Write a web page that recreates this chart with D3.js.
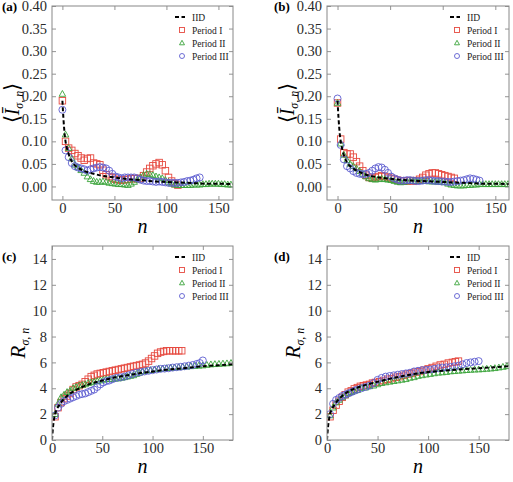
<!DOCTYPE html>
<html>
<head>
<meta charset="utf-8">
<script src="https://cdn.jsdelivr.net/npm/d3@7"></script>
<style>
body { margin: 0; background: #fff; }
svg { font-family: "Liberation Serif", "Times New Roman", "DejaVu Serif", serif; }
</style>
</head>
<body>
<svg id="chart" width="513" height="482"></svg>
<script>

// ---- data: [n, value] pairs ----

var iidA = [[0,0.19],[1,0.15],[2,0.12],[3,0.1],[4,0.088],[6,0.072],[8,0.06],[10,0.052],[13,0.045],[16,0.04],[20,0.035],[25,0.031],[30,0.028],[40,0.023],[50,0.02],[60,0.017],[70,0.015],[80,0.013],[90,0.011],[100,0.01],[110,0.009],[120,0.008],[130,0.007],[140,0.006],[150,0.006],[165,0.005]];
var p1A = [[0,.19],[3,.10],[6,.085],[9,.08],[12,.073],[15,.068],[18,.063],[21,.058],[24,.062],[27,.063],[30,.052],[33,.05],[36,.048],[39,.036],[42,.026],[45,.022],[48,.019],[51,.016],[54,.015],[57,.014],[60,.015],[63,.016],[66,.017],[69,.018],[72,.017],[75,.018],[78,.024],[81,.032],[84,.04],[87,.046],[90,.05],[93,.053],[96,.048],[99,.035],[102,.02],[105,.012],[108,.006],[111,.003]];
var p2A = [[0,.205],[3,.115],[6,.085],[9,.062],[12,.048],[15,.042],[18,.036],[21,.03],[24,.022],[27,.016],[30,.012],[33,.01],[36,.01],[39,.011],[42,.01],[45,.008],[48,.007],[51,.006],[54,.005],[57,.005],[60,.004],[63,.003],[66,.006],[69,.01],[72,.015],[75,.02],[78,.025],[81,.028],[84,.027],[87,.025],[90,.022],[93,.02],[96,.018],[99,.014],[102,.01],[105,.006],[108,.004],[111,.003],[114,.003],[117,.003],[120,.003],[123,.003],[126,.004],[129,.004],[132,.004],[135,.005],[138,.005],[141,.006],[144,.006],[147,.006],[150,.006],[153,.005],[156,.005],[159,.004],[162,.004]];
var p3A = [[0,.17],[3,.08],[6,.065],[9,.052],[12,.045],[15,.042],[18,.04],[21,.038],[24,.035],[27,.038],[30,.04],[33,.042],[36,.043],[39,.042],[42,.04],[45,.035],[48,.028],[51,.022],[54,.02],[57,.018],[60,.02],[63,.02],[66,.02],[69,.02],[72,.018],[75,.015],[78,.013],[81,.012],[84,.012],[87,.011],[90,.01],[93,.011],[96,.01],[99,.009],[102,.008],[105,.008],[108,.008],[111,.008],[114,.009],[117,.01],[120,.012],[123,.013],[126,.015],[129,.018],[132,.02]];

var iidB = [[0,0.19],[1,0.15],[2,0.12],[3,0.1],[4,0.088],[6,0.07],[8,0.058],[10,0.05],[13,0.043],[16,0.038],[20,0.033],[25,0.028],[30,0.024],[40,0.02],[50,0.017],[60,0.015],[70,0.013],[80,0.012],[90,0.011],[100,0.01],[110,0.009],[120,0.008],[130,0.007],[140,0.006],[150,0.006],[165,0.005]];
var p1B = [[0,.185],[3,.105],[6,.075],[9,.072],[12,.072],[15,.065],[18,.055],[21,.045],[24,.035],[27,.025],[30,.02],[33,.018],[36,.02],[39,.022],[42,.024],[45,.022],[48,.02],[51,.018],[54,.016],[57,.014],[60,.012],[63,.012],[66,.012],[69,.013],[72,.012],[75,.013],[78,.016],[81,.02],[84,.025],[87,.028],[90,.03],[93,.03],[96,.028],[99,.026],[102,.024],[105,.022],[108,.02],[111,.018]];
var p2B = [[0,.185],[3,.095],[6,.07],[9,.058],[12,.05],[15,.045],[18,.04],[21,.034],[24,.028],[27,.022],[30,.018],[33,.016],[36,.015],[39,.016],[42,.017],[45,.016],[48,.015],[51,.014],[54,.012],[57,.01],[60,.009],[63,.01],[66,.011],[69,.012],[72,.012],[75,.012],[78,.012],[81,.012],[84,.012],[87,.011],[90,.011],[93,.011],[96,.01],[99,.01],[102,.009],[105,.006],[108,.004],[111,.003],[114,.002],[117,.002],[120,.002],[123,.003],[126,.003],[129,.004],[132,.004],[135,.005],[138,.005],[141,.005],[144,.005],[147,.005],[150,.005],[153,.005],[156,.005],[159,.005],[162,.005]];
var p3B = [[0,.195],[3,.092],[6,.06],[9,.045],[12,.04],[15,.034],[18,.03],[21,.028],[24,.027],[27,.028],[30,.03],[33,.035],[36,.04],[39,.043],[42,.042],[45,.037],[48,.03],[51,.022],[54,.018],[57,.015],[60,.013],[63,.013],[66,.014],[69,.014],[72,.013],[75,.012],[78,.012],[81,.013],[84,.014],[87,.014],[90,.013],[93,.012],[96,.012],[99,.011],[102,.011],[105,.01],[108,.01],[111,.011],[114,.012],[117,.013],[120,.014],[123,.016],[126,.018],[129,.017],[132,.015],[135,.013]];

var iidC = [[0,0],[1,1.0],[2,1.6],[3,2.0],[5,2.4],[8,2.8],[10,3.0],[15,3.4],[20,3.7],[30,4.1],[40,4.4],[50,4.6],[60,4.8],[75,5.0],[90,5.2],[100,5.3],[115,5.45],[130,5.55],[150,5.7],[165,5.78],[180,5.85]];
var p1C = [[3,1.8],[6,2.5],[9,2.9],[12,3.2],[15,3.4],[18,3.6],[21,3.9],[24,4.1],[27,4.2],[30,4.3],[33,4.5],[36,4.7],[39,4.9],[42,5.0],[45,5.1],[48,5.15],[51,5.2],[54,5.25],[57,5.3],[60,5.35],[63,5.4],[66,5.45],[69,5.5],[72,5.55],[75,5.6],[78,5.65],[81,5.7],[84,5.75],[87,5.8],[90,5.85],[93,5.95],[96,6.1],[99,6.3],[102,6.5],[105,6.7],[108,6.8],[111,6.85],[114,6.9],[117,6.9],[120,6.9],[123,6.9],[126,6.9],[129,6.9]];
var p2C = [[3,2.0],[6,2.8],[9,3.3],[12,3.5],[15,3.7],[18,3.8],[21,4.0],[24,4.1],[27,4.2],[30,4.25],[33,4.3],[36,4.4],[39,4.45],[42,4.5],[45,4.55],[48,4.6],[51,4.65],[54,4.7],[57,4.7],[60,4.7],[63,4.75],[66,4.75],[69,4.8],[72,4.85],[75,4.9],[78,4.95],[81,5.0],[84,5.1],[87,5.2],[90,5.3],[94,5.35],[98,5.4],[102,5.45],[106,5.5],[110,5.52],[114,5.55],[118,5.58],[122,5.6],[126,5.62],[130,5.65],[134,5.67],[138,5.7],[142,5.72],[146,5.74],[150,5.76],[154,5.8],[158,5.84],[162,5.86],[166,5.88],[170,5.9],[174,5.92],[178,5.95]];
var p3C = [[3,1.9],[6,2.5],[9,2.8],[12,3.0],[15,3.1],[18,3.2],[21,3.3],[24,3.4],[27,3.5],[30,3.55],[33,3.6],[36,3.7],[39,3.8],[42,3.9],[45,4.1],[48,4.3],[51,4.45],[54,4.55],[57,4.6],[60,4.7],[64,4.8],[68,4.85],[72,4.9],[76,5.0],[80,5.1],[84,5.2],[88,5.25],[92,5.3],[96,5.35],[100,5.4],[104,5.45],[108,5.5],[112,5.52],[116,5.55],[120,5.6],[124,5.63],[128,5.66],[132,5.7],[136,5.75],[140,5.8],[144,5.88],[147,5.95],[150,6.15]];

var iidD = [[0,0],[1,1.0],[2,1.6],[3,2.0],[5,2.4],[8,2.8],[10,3.0],[15,3.4],[20,3.7],[30,4.05],[40,4.3],[50,4.5],[60,4.7],[75,4.95],[90,5.15],[100,5.25],[115,5.35],[130,5.45],[150,5.55],[165,5.62],[180,5.7]];
var p1D = [[3,1.8],[6,2.3],[9,2.7],[12,3.0],[15,3.3],[18,3.5],[21,3.7],[24,3.8],[27,3.95],[30,4.05],[33,4.15],[36,4.2],[39,4.25],[42,4.3],[45,4.4],[48,4.45],[52,4.5],[56,4.6],[60,4.7],[64,4.75],[68,4.85],[72,4.9],[76,5.0],[80,5.1],[84,5.15],[88,5.25],[92,5.3],[96,5.4],[100,5.5],[104,5.6],[108,5.7],[112,5.8],[116,5.85],[120,5.95],[124,6.0],[127,6.05],[130,6.1]];
var p2D = [[3,1.9],[6,2.5],[9,2.9],[12,3.1],[15,3.3],[18,3.45],[21,3.6],[24,3.7],[27,3.8],[30,3.85],[34,4.0],[38,4.05],[42,4.15],[46,4.2],[50,4.3],[54,4.4],[58,4.45],[62,4.5],[66,4.55],[70,4.6],[74,4.65],[78,4.7],[82,4.8],[86,4.85],[90,4.95],[94,5.0],[98,5.05],[102,5.1],[106,5.15],[110,5.2],[114,5.22],[118,5.25],[122,5.3],[126,5.32],[130,5.35],[134,5.37],[138,5.4],[142,5.42],[146,5.44],[150,5.45],[154,5.47],[158,5.5],[162,5.52],[166,5.55],[170,5.6],[174,5.65],[178,5.7]];
var p3D = [[3,2.0],[6,2.8],[9,3.1],[12,3.25],[15,3.4],[18,3.5],[21,3.6],[24,3.7],[27,3.8],[30,3.9],[34,4.0],[38,4.1],[42,4.2],[46,4.4],[50,4.65],[54,4.8],[58,4.9],[62,4.95],[66,5.0],[70,5.05],[74,5.1],[78,5.15],[82,5.2],[86,5.3],[90,5.35],[94,5.4],[98,5.42],[102,5.45],[106,5.5],[110,5.55],[114,5.6],[118,5.62],[122,5.65],[126,5.7],[130,5.75],[134,5.85],[138,5.95],[142,6.0],[146,6.05],[150,6.1]];

var xTicks = [0, 50, 100, 150];
var yTicksI = [0, 0.05, 0.10, 0.15, 0.20, 0.25, 0.30, 0.35, 0.40];
var yTicksR = [0, 2, 4, 6, 8, 10, 12, 14];
var legendLabels = ["IID", "Period I", "Period II", "Period III"];

// ---- layout ----

var serif = "'Liberation Serif', 'Times New Roman', serif";
var colors = { p1: "#e64a40", p2: "#3aa43a", p3: "#5e5ed0" };

var panels = [
	{ tag: "(a)", tx: 2, ty: 11, left: 52, right: 233, top: 6, bottom: 200, xDom: [-10, 164], yDom: [-0.03, 0.40], yTicks: yTicksI, fmt: d3.format(".2f"), kind: "I", iid: iidA, p1: p1A, p2: p2A, p3: p3A },
	{ tag: "(b)", tx: 274, ty: 11, left: 327, right: 509, top: 6, bottom: 200, xDom: [-10, 163], yDom: [-0.03, 0.40], yTicks: yTicksI, fmt: d3.format(".2f"), kind: "I", iid: iidB, p1: p1B, p2: p2B, p3: p3B },
	{ tag: "(c)", tx: 2, ty: 261, left: 52, right: 233, top: 246, bottom: 440, xDom: [0, 180], yDom: [0, 15], yTicks: yTicksR, fmt: d3.format("d"), kind: "R", iid: iidC, p1: p1C, p2: p2C, p3: p3C },
	{ tag: "(d)", tx: 274, ty: 261, left: 327, right: 509, top: 246, bottom: 440, xDom: [0, 180], yDom: [0, 15], yTicks: yTicksR, fmt: d3.format("d"), kind: "R", iid: iidD, p1: p1D, p2: p2D, p3: p3D }
];

var svg = d3.select("#chart");

function drawMarker(g, type, x, y, s) {
	if (type == "p1") {
		g.append("rect").attr("x", x - s / 2).attr("y", y - s / 2).attr("width", s).attr("height", s)
		.attr("fill", "none").attr("stroke", colors.p1).attr("stroke-width", 0.9);
	} else if (type == "p2") {
		var h = s * 0.9;
		g.append("path")
		.attr("d", "M" + x + "," + (y - h * 0.6) + "L" + (x + s / 2) + "," + (y + h * 0.4) + "L" + (x - s / 2) + "," + (y + h * 0.4) + "Z")
		.attr("fill", "none").attr("stroke", colors.p2).attr("stroke-width", 0.9);
	} else {
		g.append("circle").attr("cx", x).attr("cy", y).attr("r", s / 2)
		.attr("fill", "none").attr("stroke", colors.p3).attr("stroke-width", 0.9);
	}
}

panels.forEach(function (p, i) {

	var x = d3.scaleLinear().domain(p.xDom).range([p.left, p.right]);
	var y = d3.scaleLinear().domain(p.yDom).range([p.bottom, p.top]);

	var g = svg.append("g");

	var clipId = "clip" + i;
	svg.append("clipPath").attr("id", clipId)
	.append("rect").attr("x", p.left).attr("y", p.top).attr("width", p.right - p.left).attr("height", p.bottom - p.top);

	var plot = g.append("g").attr("clip-path", "url(#" + clipId + ")");

	// markers: Period I, II, III
	["p1", "p2", "p3"].forEach(function (key) {
		var mg = plot.append("g");
		var size = key == "p3" ? 7 : 6.5;
		p[key].forEach(function (d) {
			drawMarker(mg, key, x(d[0]), y(d[1]), size);
		});
	});

	// IID dashed line
	var line = d3.line().x(function (d) { return x(d[0]); }).y(function (d) { return y(d[1]); }).curve(d3.curveMonotoneX);
	plot.append("path")
	.attr("d", line(p.iid))
	.attr("fill", "none")
	.attr("stroke", "#000")
	.attr("stroke-width", 2)
	.attr("stroke-dasharray", "4,2.5");

	// axes, inward ticks on all four sides
	var axes = [
		{ ax: d3.axisBottom(x).tickValues(xTicks).tickFormat(d3.format("d")), tr: "translate(0," + p.bottom + ")", pad: 3 },
		{ ax: d3.axisTop(x).tickValues(xTicks).tickFormat(""), tr: "translate(0," + p.top + ")", pad: 3 },
		{ ax: d3.axisLeft(y).tickValues(p.yTicks).tickFormat(p.fmt), tr: "translate(" + p.left + ",0)", pad: 5 },
		{ ax: d3.axisRight(y).tickValues(p.yTicks).tickFormat(""), tr: "translate(" + p.right + ",0)", pad: 5 }
	];

	axes.forEach(function (a) {
		var ag = g.append("g").attr("transform", a.tr)
		.call(a.ax.tickSizeInner(-4).tickSizeOuter(0).tickPadding(a.pad));
		ag.select(".domain").remove();
		ag.attr("font-family", null).attr("font-size", null);
		ag.selectAll(".tick line").attr("stroke", "#777").attr("stroke-width", 0.8);
		ag.selectAll(".tick text")
		.style("font-family", serif)
		.style("font-size", "14.5px")
		.attr("fill", "#2a2a2a");
	});

	g.append("rect")
	.attr("x", p.left).attr("y", p.top)
	.attr("width", p.right - p.left).attr("height", p.bottom - p.top)
	.attr("fill", "none").attr("stroke", "#888").attr("stroke-width", 1);

	// panel tag
	g.append("text")
	.attr("x", p.tx).attr("y", p.ty)
	.style("font-family", serif)
	.style("font-size", "13px").style("font-weight", "bold")
	.text(p.tag);

	// x label
	g.append("text")
	.attr("x", (p.left + p.right) / 2).attr("y", p.bottom + 33)
	.attr("text-anchor", "middle")
	.style("font-family", serif)
	.style("font-size", "20px").style("font-style", "italic")
	.text("n");

	// y label
	var cy = (p.top + p.bottom) / 2;

	if (p.kind == "I") {
		var yl = g.append("text")
		.attr("transform", "translate(" + (p.left - 33) + "," + cy + ") rotate(-90)")
		.attr("text-anchor", "middle")
		.style("font-family", serif);
		yl.append("tspan").style("font-size", "21px").text("\u27E8");
		yl.append("tspan").style("font-size", "20px").style("font-style", "italic").text("\u012A");
		yl.append("tspan").style("font-size", "12px").style("font-style", "italic").attr("dy", 4).text("\u03C3, n");
		yl.append("tspan").style("font-size", "21px").attr("dy", -4).text("\u27E9");
	} else {
		var yr = g.append("text")
		.attr("transform", "translate(" + (p.left - 27) + "," + cy + ") rotate(-90)")
		.attr("text-anchor", "middle")
		.style("font-family", serif);
		yr.append("tspan").style("font-size", "21px").style("font-style", "italic").text("R");
		yr.append("tspan").style("font-size", "12px").style("font-style", "italic").attr("dy", 4).text("\u03C3, n");
	}

	// legend
	var lx = p.left + 123;
	var ly = p.top + 11;
	legendLabels.forEach(function (label, k) {
		var yy = ly + k * 13;
		if (k == 0) {
			g.append("line")
			.attr("x1", lx).attr("x2", lx + 10).attr("y1", yy).attr("y2", yy)
			.attr("stroke", "#000").attr("stroke-width", 2).attr("stroke-dasharray", "4,2.5");
		} else {
			drawMarker(g, "p" + k, lx + 7, yy, 5);
		}
		g.append("text")
		.attr("x", lx + 17).attr("y", yy + 3.5)
		.style("font-family", serif)
		.style("font-size", "9.5px")
		.attr("fill", "#222")
		.text(label);
	});
});

</script>
</body>
</html>
